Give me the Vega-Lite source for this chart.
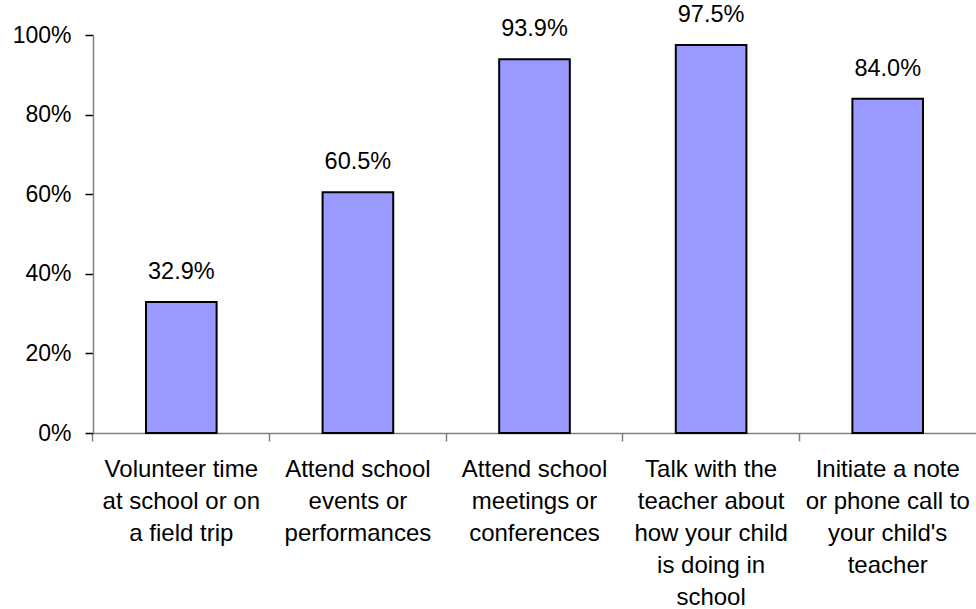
{
  "$schema": "https://vega.github.io/schema/vega-lite/v6.json",
  "width": 883,
  "height": 398,
  "autosize": {"type": "none"},
  "padding": {"left": 93, "top": 35, "right": 0, "bottom": 176},
  "background": "white",
  "config": {
    "view": {"stroke": null},
    "font": "Liberation Sans"
  },
  "data": {
    "values": [
      {"activity": "Volunteer time|at school or on|a field trip", "pct": 0.329},
      {"activity": "Attend school|events or|performances", "pct": 0.605},
      {"activity": "Attend school|meetings or|conferences", "pct": 0.939},
      {"activity": "Talk with the|teacher about|how your child|is doing in|school", "pct": 0.975},
      {"activity": "Initiate a note|or phone call to|your child's|teacher", "pct": 0.84}
    ]
  },
  "encoding": {
    "x": {
      "field": "activity",
      "type": "nominal",
      "sort": null,
      "scale": {"paddingInner": 0.6, "paddingOuter": 0.3},
      "axis": {
        "title": null,
        "labelAngle": 0,
        "labelExpr": "split(datum.value, '|')",
        "labelFont": "Liberation Sans",
        "labelFontSize": 24,
        "labelLineHeight": 32,
        "labelColor": "#000000",
        "labelPadding": 16,
        "labelBaseline": "top",
        "bandPosition": -0.75,
        "domainColor": "#808080",
        "domainWidth": 1.5,
        "tickColor": "#808080",
        "tickWidth": 1.5,
        "tickSize": 8,
        "grid": false
      }
    },
    "y": {
      "field": "pct",
      "type": "quantitative",
      "scale": {"domain": [0, 1], "nice": false},
      "axis": {
        "title": null,
        "values": [0, 0.2, 0.4, 0.6, 0.8, 1],
        "format": ".0%",
        "labelFont": "Liberation Sans",
        "labelFontSize": 23,
        "labelColor": "#000000",
        "labelPadding": 14,
        "domainColor": "#808080",
        "domainWidth": 1.5,
        "tickColor": "#000000",
        "tickWidth": 1.5,
        "tickSize": 8,
        "grid": false
      }
    }
  },
  "layer": [
    {
      "mark": {"type": "bar", "fill": "#9999FF", "stroke": "#000000", "strokeWidth": 2}
    },
    {
      "mark": {"type": "text", "baseline": "bottom", "dy": -18, "fontSize": 23.5, "font": "Liberation Sans", "color": "#000000"},
      "encoding": {
        "text": {"field": "pct", "type": "quantitative", "format": ".1%"}
      }
    }
  ]
}
